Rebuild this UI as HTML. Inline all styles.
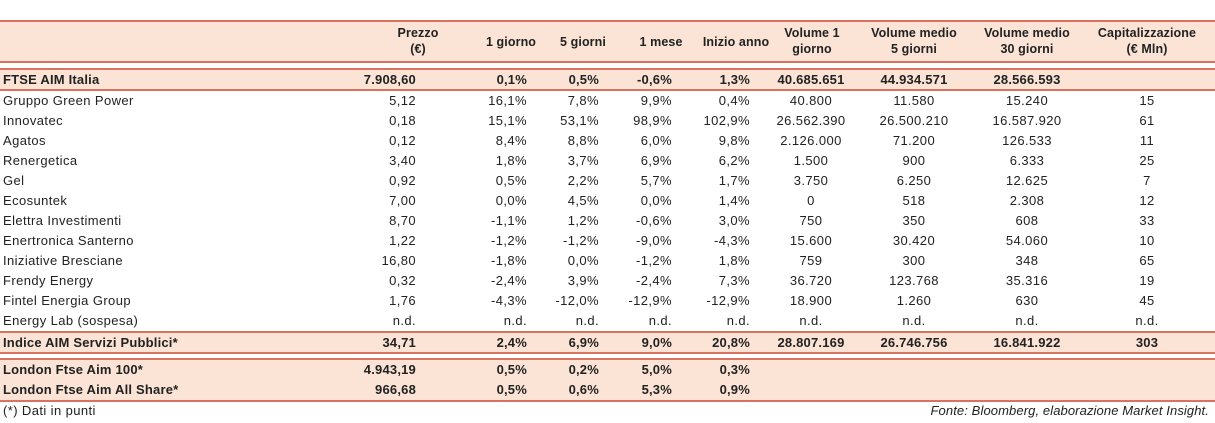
<!DOCTYPE html>
<html><head><meta charset="utf-8"><style>
body{margin:0;width:1215px;height:423px;background:#fff;font-family:"Liberation Sans",sans-serif;font-size:13px;letter-spacing:0.4px;color:#222;position:relative;overflow:hidden}
.band{position:absolute;left:0;width:1215px;background:#fbe4d5}
.ln{position:absolute;left:0;width:1215px;height:2px;background:#d9735f}
.r{position:absolute;height:20px;line-height:20px;left:0;width:1215px}
.r span{position:absolute;white-space:nowrap}
.b{font-weight:bold;letter-spacing:0.2px}
.h{position:absolute;text-align:center;font-weight:bold;line-height:16px;font-size:12.5px;white-space:nowrap;letter-spacing:0.1px}
</style></head><body>
<div class="band" style="top:21px;height:42px"></div>
<div class="ln" style="top:20px"></div>
<div class="ln" style="top:61px"></div>
<div class="band" style="top:69px;height:21px"></div>
<div class="ln" style="top:68px"></div>
<div class="ln" style="top:89px"></div>
<div class="band" style="top:332px;height:21px"></div>
<div class="ln" style="top:331px"></div>
<div class="ln" style="top:352px"></div>
<div class="band" style="top:359px;height:42px"></div>
<div class="ln" style="top:358px"></div>
<div class="ln" style="top:400px"></div>

<div class="h" style="left:378px;width:80px;top:25px">Prezzo<br>(€)</div>
<div class="h" style="left:471px;width:80px;top:34px">1 giorno</div>
<div class="h" style="left:543px;width:80px;top:34px">5 giorni</div>
<div class="h" style="left:621px;width:80px;top:34px">1 mese</div>
<div class="h" style="left:691px;width:90px;top:34px">Inizio anno</div>
<div class="h" style="left:767px;width:90px;top:25px">Volume 1<br>giorno</div>
<div class="h" style="left:859px;width:110px;top:25px">Volume medio<br>5 giorni</div>
<div class="h" style="left:972px;width:110px;top:25px">Volume medio<br>30 giorni</div>
<div class="h" style="left:1087px;width:120px;top:25px">Capitalizzazione<br>(€ Mln)</div>

<div id="rows"></div>
<div style="position:absolute;left:3px;top:403px">(*) Dati in punti</div>
<div style="position:absolute;right:6px;top:403px;font-style:italic;letter-spacing:0.1px">Fonte: Bloomberg, elaborazione Market Insight.</div>
<script>
var D=[
[70,1,"FTSE AIM Italia","7.908,60","0,1%","0,5%","-0,6%","1,3%","40.685.651","44.934.571","28.566.593",""],
[91,0,"Gruppo Green Power","5,12","16,1%","7,8%","9,9%","0,4%","40.800","11.580","15.240","15"],
[111,0,"Innovatec","0,18","15,1%","53,1%","98,9%","102,9%","26.562.390","26.500.210","16.587.920","61"],
[131,0,"Agatos","0,12","8,4%","8,8%","6,0%","9,8%","2.126.000","71.200","126.533","11"],
[151,0,"Renergetica","3,40","1,8%","3,7%","6,9%","6,2%","1.500","900","6.333","25"],
[171,0,"Gel","0,92","0,5%","2,2%","5,7%","1,7%","3.750","6.250","12.625","7"],
[191,0,"Ecosuntek","7,00","0,0%","4,5%","0,0%","1,4%","0","518","2.308","12"],
[211,0,"Elettra Investimenti","8,70","-1,1%","1,2%","-0,6%","3,0%","750","350","608","33"],
[231,0,"Enertronica Santerno","1,22","-1,2%","-1,2%","-9,0%","-4,3%","15.600","30.420","54.060","10"],
[251,0,"Iniziative Bresciane","16,80","-1,8%","0,0%","-1,2%","1,8%","759","300","348","65"],
[271,0,"Frendy Energy","0,32","-2,4%","3,9%","-2,4%","7,3%","36.720","123.768","35.316","19"],
[291,0,"Fintel Energia Group","1,76","-4,3%","-12,0%","-12,9%","-12,9%","18.900","1.260","630","45"],
[311,0,"Energy Lab (sospesa)","n.d.","n.d.","n.d.","n.d.","n.d.","n.d.","n.d.","n.d.","n.d."],
[333,1,"Indice AIM Servizi Pubblici*","34,71","2,4%","6,9%","9,0%","20,8%","28.807.169","26.746.756","16.841.922","303"],
[360,1,"London Ftse Aim 100*","4.943,19","0,5%","0,2%","5,0%","0,3%","","","",""],
[380,1,"London Ftse Aim All Share*","966,68","0,5%","0,6%","5,3%","0,9%","","","",""]];
var rights=[null,null,1215-416,1215-527,1215-599,1215-672,1215-750];
var centers=[811,914,1027,1147];
var h="";
D.forEach(function(d){
 h+='<div class="r'+(d[1]?' b':'')+'" style="top:'+d[0]+'px"><span style="left:3px">'+d[2]+'</span>';
 for(var i=3;i<8;i++)h+='<span style="right:'+rights[i-1]+'px">'+d[i]+'</span>';
 for(var j=0;j<4;j++)h+='<span style="left:'+(centers[j]-60)+'px;width:120px;text-align:center">'+d[8+j]+'</span>';
 h+='</div>';
});
document.getElementById("rows").innerHTML=h;
</script>
</body></html>
